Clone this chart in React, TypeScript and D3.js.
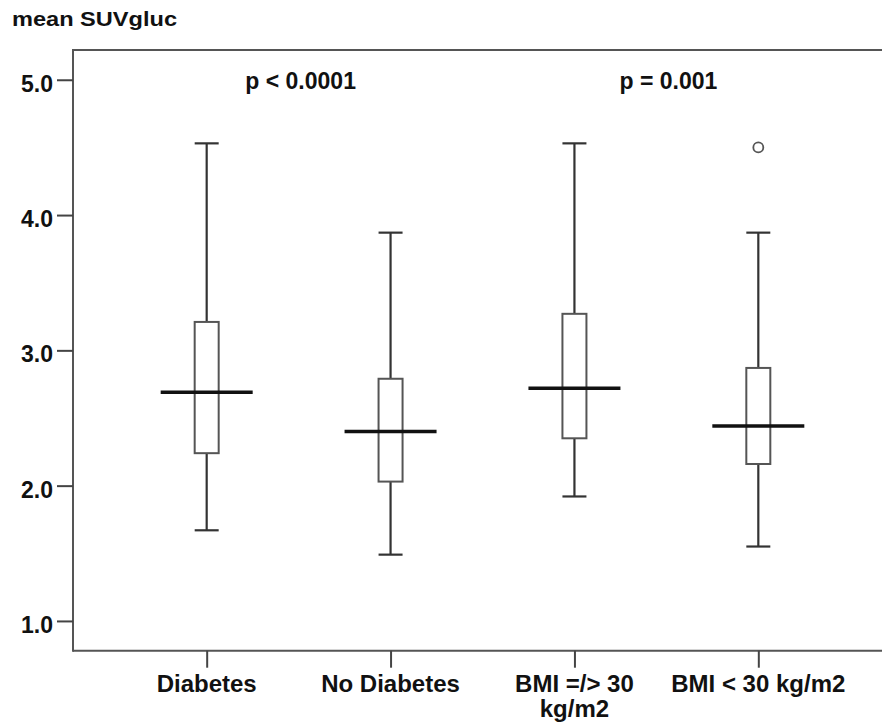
import React, { useEffect, useRef } from "react";
import * as d3 from "d3";

// values (mean SUVgluc)
const categories = ["Diabetes", "No Diabetes", "BMI =/> 30 kg/m2", "BMI < 30 kg/m2"];
const categoryLines = [["Diabetes"], ["No Diabetes"], ["BMI =/> 30", "kg/m2"], ["BMI < 30 kg/m2"]];
const whiskerLow = [1.67, 1.49, 1.92, 1.55];
const q1 = [2.24, 2.03, 2.35, 2.16];
const median = [2.69, 2.4, 2.72, 2.44];
const q3 = [3.21, 2.79, 3.27, 2.87];
const whiskerHigh = [4.53, 3.87, 4.53, 3.87];
const outliers = [[], [], [], [4.5]];
const yTicks = [1.0, 2.0, 3.0, 4.0, 5.0];
const pLabels = ["p < 0.0001", "p = 0.001"];
const pPairs = [[0, 1], [2, 3]];

const FONT = "'Liberation Sans', Arial, sans-serif";

const App = () => {
  const svgRef = useRef<SVGSVGElement>(null);

  useEffect(() => {
    const width = 882;
    const height = 727;
    const left = 73, top = 50, bottom = 650.7, right = 892; // frame runs off the right edge

    const svg = d3.select(svgRef.current);
    svg.selectAll("*").remove();

    const x = d3.scalePoint<string>().domain(categories).range([left, right]).padding(0.727);
    const y = d3.scaleLinear().domain([0.78, 5.22]).range([bottom, top]);

    const boxW = 24;
    const medW = 92;

    svg.attr("width", width).attr("height", height).attr("viewBox", [0, 0, width, height].join(" "));

    // y title
    svg.append("text")
      .attr("x", 12).attr("y", 26)
      .attr("font-family", FONT).attr("font-weight", "bold").attr("font-size", 21)
      .attr("textLength", 165).attr("lengthAdjust", "spacingAndGlyphs")
      .attr("fill", "#111")
      .text("mean SUVgluc");

    // frame (left, top, bottom; the right side is cut off)
    const frame = svg.append("g").attr("stroke", "#555").attr("stroke-width", 2);
    frame.append("line").attr("x1", left).attr("x2", width).attr("y1", top).attr("y2", top);
    frame.append("line").attr("x1", left).attr("x2", width).attr("y1", bottom).attr("y2", bottom);
    frame.append("line").attr("x1", left).attr("x2", left).attr("y1", top - 1).attr("y2", bottom + 1);

    // y axis
    const yAxis = svg.append("g")
      .attr("transform", `translate(${left},0)`)
      .call(d3.axisLeft(y).tickValues(yTicks).tickSize(16).tickPadding(4).tickFormat(d3.format(".1f")));
    yAxis.select(".domain").remove();
    yAxis.selectAll("line").attr("stroke", "#444").attr("stroke-width", 2);
    yAxis.selectAll("text")
      .attr("font-family", FONT).attr("font-weight", "bold").attr("font-size", 23)
      .attr("fill", "#111").attr("dy", "0.5em");

    // x axis
    const xAxis = svg.append("g")
      .attr("transform", `translate(0,${bottom})`)
      .call(d3.axisBottom(x).tickSize(17).tickFormat(() => ""));
    xAxis.select(".domain").remove();
    xAxis.selectAll("line").attr("stroke", "#444").attr("stroke-width", 2);
    xAxis.selectAll(".tick text").remove();

    const labels = svg.append("g")
      .attr("font-family", FONT).attr("font-weight", "bold").attr("font-size", 24)
      .attr("fill", "#111").attr("text-anchor", "middle");
    categories.forEach((c, i) => {
      const t = labels.append("text").attr("x", x(c)!).attr("y", bottom + 41);
      categoryLines[i].forEach((ln, j) => {
        t.append("tspan").attr("x", x(c)!).attr("dy", j === 0 ? 0 : 25.6).text(ln);
      });
    });

    // boxes
    const g = svg.append("g");
    categories.forEach((c, i) => {
      const cx = x(c)!;
      // whiskers
      g.append("line").attr("x1", cx).attr("x2", cx)
        .attr("y1", y(whiskerHigh[i])).attr("y2", y(q3[i]))
        .attr("stroke", "#333").attr("stroke-width", 2.2);
      g.append("line").attr("x1", cx).attr("x2", cx)
        .attr("y1", y(q1[i])).attr("y2", y(whiskerLow[i]))
        .attr("stroke", "#333").attr("stroke-width", 2.2);
      [whiskerHigh[i], whiskerLow[i]].forEach(v => {
        g.append("line").attr("x1", cx - boxW / 2).attr("x2", cx + boxW / 2)
          .attr("y1", y(v)).attr("y2", y(v))
          .attr("stroke", "#333").attr("stroke-width", 2.2);
      });
      g.append("rect")
        .attr("x", cx - boxW / 2).attr("y", y(q3[i]))
        .attr("width", boxW).attr("height", y(q1[i]) - y(q3[i]))
        .attr("fill", "#fff").attr("stroke", "#555").attr("stroke-width", 2);
      g.append("line").attr("x1", cx - medW / 2).attr("x2", cx + medW / 2)
        .attr("y1", y(median[i])).attr("y2", y(median[i]))
        .attr("stroke", "#111").attr("stroke-width", 3.5);
      outliers[i].forEach(v => {
        g.append("circle").attr("cx", cx).attr("cy", y(v)).attr("r", 5)
          .attr("fill", "#fff").attr("stroke", "#555").attr("stroke-width", 1.8);
      });
    });

    // p values
    pLabels.forEach((p, k) => {
      const [a, b] = pPairs[k];
      svg.append("text")
        .attr("x", (x(categories[a])! + x(categories[b])!) / 2 + 2)
        .attr("y", top + 39)
        .attr("text-anchor", "middle")
        .attr("font-family", FONT).attr("font-weight", "bold").attr("font-size", 23)
        .attr("fill", "#111")
        .text(p);
    });
  }, []);

  return <svg ref={svgRef} style={{ position: "absolute", left: 0, top: 0, background: "#fff", overflow: "hidden", display: "block" }}></svg>;
};

export default App;
